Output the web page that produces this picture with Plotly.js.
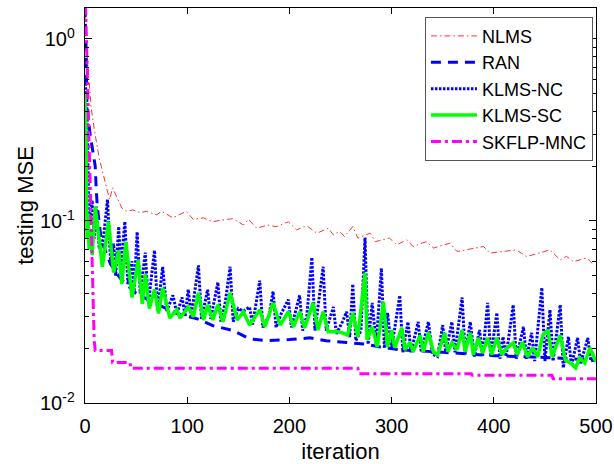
<!DOCTYPE html>
<html>
<head>
<meta charset="utf-8">
<script src="https://cdn.plot.ly/plotly-3.0.1.min.js"></script>
<style>html,body{margin:0;padding:0;background:#fff;}#chart{width:614px;height:464px;}</style>
</head>
<body>
<div id="chart"></div>
<script>
// ---- data ----
const seriesNames = ['NLMS', 'RAN', 'KLMS-NC', 'KLMS-SC', 'SKFLP-MNC'];

const nlmsIter = [0,3,6,9,14,20,24,27,36,41,47,54,60,70,75,86,99,106,116,125,133,145,155,160,168,179,187,199,207,217,227,238,243,249,254,262,267,279,284,298,305,315,321,334,341,357,364,390,396,422,432,455,465,471,478,491,496,500];
const nlmsMSE  = [1.6,0.7,0.42,0.32,0.22,0.162,0.131,0.152,0.118,0.113,0.115,0.111,0.113,0.108,0.113,0.104,0.113,0.102,0.104,0.099,0.101,0.103,0.095,0.102,0.0913,0.095,0.093,0.099,0.0894,0.094,0.0857,0.0913,0.0839,0.0875,0.0821,0.0932,0.0805,0.0857,0.077,0.0805,0.074,0.0788,0.0724,0.077,0.071,0.0755,0.068,0.0724,0.0666,0.0694,0.0637,0.0694,0.0611,0.064,0.0598,0.0627,0.0587,0.06];

const ranIter = [0,2,5,8,10,11,12,16,25,35,50,70,90,110,125,145,161,178,200,220,236,256,276,289,308,350,400,450,500];
const ranMSE  = [1.5,0.42,0.3,0.24,0.2,0.15,0.12,0.078,0.058,0.048,0.04,0.035,0.031,0.029,0.0266,0.025,0.0225,0.022,0.0223,0.0228,0.022,0.0215,0.021,0.0203,0.0196,0.019,0.0182,0.0178,0.0172];

const ncIter = [0,2,4,7,9,11,14,18,22,25,28,30,33,35,39,42,46,48,51,54,59,62,68,71,76,80,86,90,95,98,101,104,111,114,120,123,130,133,137,142,145,150,155,161,164,171,174,180,184,187,192,199,202,210,213,217,222,225,233,236,243,246,252,256,259,262,265,270,274,277,281,285,290,293,296,300,308,311,316,319,326,329,336,340,345,350,353,359,362,369,372,377,381,386,389,394,397,403,406,409,412,419,422,429,432,437,440,447,450,455,458,465,468,473,476,482,485,492,495,500];
const ncMSE  = [0.6,0.4,0.1,0.13,0.08,0.12,0.07,0.08,0.131,0.06,0.075,0.05,0.093,0.055,0.099,0.045,0.06,0.04,0.087,0.04,0.067,0.035,0.069,0.032,0.056,0.032,0.039,0.031,0.038,0.03,0.042,0.03,0.057,0.029,0.042,0.029,0.046,0.028,0.035,0.056,0.028,0.033,0.032,0.0337,0.027,0.047,0.026,0.03,0.041,0.026,0.031,0.037,0.026,0.039,0.025,0.03,0.063,0.025,0.056,0.025,0.0337,0.024,0.028,0.0317,0.023,0.045,0.022,0.025,0.081,0.021,0.0355,0.021,0.055,0.02,0.0313,0.02,0.039,0.019,0.0279,0.019,0.0279,0.019,0.0279,0.0185,0.018,0.0268,0.019,0.0279,0.019,0.038,0.0185,0.0279,0.018,0.0252,0.018,0.0355,0.018,0.0313,0.0175,0.0231,0.018,0.0346,0.0175,0.0262,0.0175,0.0243,0.017,0.043,0.017,0.0325,0.017,0.0346,0.0156,0.0231,0.016,0.0228,0.0165,0.0228,0.017,0.0175];

const scIter = [0,1,2,3,4,5,7,10,17,23,28,33,36,40,46,52,56,59,63,68,72,76,83,90,93,101,106,111,116,120,125,130,135,142,149,155,161,171,176,184,191,199,204,210,215,223,228,233,238,247,252,257,262,267,274,276,281,286,292,296,300,303,310,313,318,321,328,331,336,341,345,352,355,359,364,369,372,377,380,385,389,394,398,403,408,413,419,423,428,433,438,443,448,453,457,465,470,475,480,484,489,494,500];
const scMSE  = [0.5,0.3,0.08,0.11,0.07,0.09,0.065,0.12,0.056,0.099,0.052,0.069,0.045,0.077,0.038,0.061,0.035,0.051,0.033,0.042,0.031,0.043,0.0293,0.0325,0.0293,0.0337,0.0297,0.0403,0.0286,0.0346,0.0286,0.0346,0.0279,0.0403,0.0286,0.0317,0.0268,0.0325,0.0262,0.0355,0.0268,0.0317,0.0262,0.0317,0.0259,0.0355,0.0252,0.0317,0.0246,0.0246,0.0243,0.0236,0.0313,0.0231,0.052,0.0222,0.0262,0.0203,0.0359,0.0203,0.0252,0.0201,0.0259,0.0196,0.0216,0.0191,0.0236,0.0191,0.0243,0.0191,0.0184,0.0243,0.0191,0.0214,0.0196,0.0252,0.0191,0.0243,0.0184,0.0228,0.0188,0.0228,0.0184,0.0228,0.0184,0.0201,0.0214,0.0184,0.0216,0.0179,0.0201,0.0179,0.0236,0.0252,0.0179,0.0236,0.0172,0.0166,0.0156,0.0177,0.0166,0.0201,0.0168];

const mncIter = [0,1,2,3,4,5,6,7,8,9,10,26,27,44,45,267,268,378,379,457,458,500];
const mncMSE  = [2.0,1.2,0.8,0.45,0.3,0.15,0.09,0.06,0.03,0.022,0.0194,0.0194,0.0167,0.0167,0.0155,0.0155,0.0145,0.0145,0.0142,0.0142,0.0136,0.0136];

const yTickVals = [0.01, 0.1, 1];
const yTickText = ['10<sup>-2</sup>', '10<sup>-1</sup>', '10<sup>0</sup>'];
const yMinorVals = [0.02,0.03,0.04,0.05,0.06,0.07,0.08,0.09,0.2,0.3,0.4,0.5,0.6,0.7,0.8,0.9];
const xTickVals = [0, 100, 200, 300, 400, 500];

// ---- traces ----
const traces = [
  {x: nlmsIter, y: nlmsMSE, name: seriesNames[0], mode: 'lines',
   line: {color: 'rgb(255,50,50)', width: 1, dash: '6px,3px,1.5px,3px'}},
  {x: ranIter, y: ranMSE, name: seriesNames[1], mode: 'lines',
   line: {color: '#0000ff', width: 3, dash: '10px,7px'}},
  {x: ncIter, y: ncMSE, name: seriesNames[2], mode: 'lines',
   line: {color: '#0000ff', width: 3, dash: '2.5px,1.5px'}},
  {x: scIter, y: scMSE, name: seriesNames[3], mode: 'lines',
   line: {color: '#00ff00', width: 3.5}},
  {x: mncIter, y: mncMSE, name: seriesNames[4], mode: 'lines',
   line: {color: '#ff00ff', width: 3, dash: '10px,4px,3px,4px'}}
];

const font = {family: '"Liberation Sans", Arial, sans-serif', color: '#000'};

const layout = {
  width: 614, height: 464,
  margin: {l: 85, r: 18, t: 8, b: 61},
  paper_bgcolor: '#fff', plot_bgcolor: '#fff',
  font: Object.assign({size: 20}, font),
  showlegend: true,
  legend: {
    x: 0.994, y: 0.978, xanchor: 'right', yanchor: 'top',
    bgcolor: '#fff', bordercolor: '#555', borderwidth: 1,
    font: Object.assign({size: 18}, font),
    itemwidth: 46, tracegroupgap: 0
  },
  xaxis: {
    range: [0, 500], tickvals: xTickVals,
    ticks: 'inside', ticklen: 6, tickwidth: 1, tickcolor: '#000',
    ticklabelstandoff: 5,
    showline: true, linecolor: '#000', linewidth: 1.3, mirror: 'allticks',
    showgrid: false, zeroline: false,
    tickfont: Object.assign({size: 20}, font),
    title: {text: 'iteration', font: Object.assign({size: 22}, font), standoff: 8}
  },
  yaxis: {
    type: 'log', range: [-2, 0.17],
    tickmode: 'array', tickvals: yTickVals, ticktext: yTickText,
    ticks: 'inside', ticklen: 7, tickwidth: 1, tickcolor: '#000',
    ticklabelstandoff: 5,
    minor: {tickmode: 'array', tickvals: yMinorVals, ticks: 'inside', ticklen: 4, tickwidth: 1, tickcolor: '#000', showgrid: false},
    showline: true, linecolor: '#000', linewidth: 1.3, mirror: 'allticks',
    showgrid: false, zeroline: false,
    tickfont: Object.assign({size: 20}, font),
    title: {text: 'testing MSE', font: Object.assign({size: 22}, font), standoff: 0}
  }
};

Plotly.newPlot('chart', traces, layout, {displayModeBar: false, staticPlot: true});
</script>
</body>
</html>
